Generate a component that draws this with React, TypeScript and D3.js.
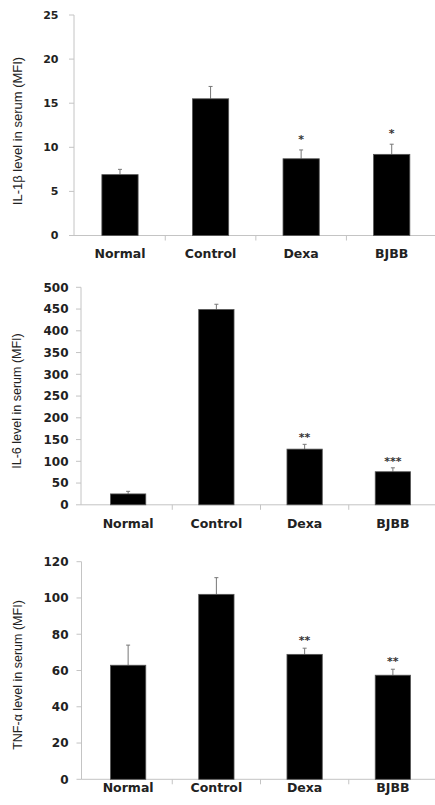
import React from "react";
import * as d3 from "d3";

const categories = ["Normal", "Control", "Dexa", "BJBB"];

const il1bMeans = [6.9, 15.5, 8.7, 9.2];
const il1bErrors = [0.6, 1.4, 1.0, 1.15];
const il1bStars = ["", "", "*", "*"];
const il1bTicks = [0, 5, 10, 15, 20, 25];
const il1bTitle = "IL-1β level in serum (MFI)";

const il6Means = [25, 449, 128, 76];
const il6Errors = [6, 12, 11, 9];
const il6Stars = ["", "", "**", "***"];
const il6Ticks = [0, 50, 100, 150, 200, 250, 300, 350, 400, 450, 500];
const il6Title = "IL-6 level in serum (MFI)";

const tnfMeans = [62.9, 102, 68.9, 57.4];
const tnfErrors = [11.1, 9.2, 3.4, 3.3];
const tnfStars = ["", "", "**", "**"];
const tnfTicks = [0, 20, 40, 60, 80, 100, 120];
const tnfTitle = "TNF-α level in serum (MFI)";

type PanelLayout = {
  axisX: number;
  bandStart: number;
  bandEnd: number;
  topPx: number;
  zeroPx: number;
  tickRight: number;
  tickFont: number;
  catBaseline: number;
  titleX: number;
  titleY: number;
  titleFont: number;
  starGap: number;
};

const AXIS = "#c4c4c4";
const TEXT = "#222";

function Panel({
  means,
  errors,
  stars,
  ticks,
  title,
  layout,
}: {
  means: number[];
  errors: number[];
  stars: string[];
  ticks: number[];
  title: string;
  layout: PanelLayout;
}) {
  const L = layout;
  const x = d3
    .scaleBand<string>()
    .domain(categories)
    .range([L.bandStart, L.bandEnd])
    .paddingInner(0.6)
    .paddingOuter(0.3);
  const step = x.step();
  const y = d3
    .scaleLinear()
    .domain([0, ticks[ticks.length - 1]])
    .range([L.zeroPx, L.topPx]);
  const bw = x.bandwidth();
  const boundaries = categories.slice(1).map((c) => (x(c) as number) - step * 0.3);
  boundaries.push(boundaries[boundaries.length - 1] + step);

  return (
    <g>
      {/* y axis */}
      <line x1={L.axisX} x2={L.axisX} y1={L.topPx} y2={L.zeroPx} stroke={AXIS} strokeWidth={1} />
      {ticks.map((t) => (
        <g key={t}>
          <line x1={L.axisX - 5} x2={L.axisX} y1={y(t)} y2={y(t)} stroke={AXIS} strokeWidth={1} />
          <text
            x={L.tickRight}
            y={y(t)}
            dy="0.36em"
            textAnchor="end"
            fontFamily="DejaVu Sans"
            fontWeight="bold"
            fontSize={L.tickFont}
            fill={TEXT}
          >
            {t}
          </text>
        </g>
      ))}
      {/* x axis */}
      <line x1={L.axisX} x2={L.bandEnd} y1={L.zeroPx} y2={L.zeroPx} stroke={AXIS} strokeWidth={1} />
      {boundaries.map((b, i) => (
        <line key={i} x1={b} x2={b} y1={L.zeroPx} y2={L.zeroPx + 5} stroke={AXIS} strokeWidth={1} />
      ))}
      {/* bars */}
      {categories.map((c, i) => {
        const bx = x(c) as number;
        const cx = bx + bw / 2;
        const top = y(means[i]);
        const errTop = y(means[i] + errors[i]);
        return (
          <g key={c}>
            <line x1={cx} x2={cx} y1={top} y2={errTop} stroke="#777" strokeWidth={1} />
            <line x1={cx - 2} x2={cx + 2} y1={errTop} y2={errTop} stroke="#777" strokeWidth={1} />
            <rect
              x={bx}
              y={top}
              width={bw}
              height={L.zeroPx - top}
              fill="#000"
              stroke="#555"
              strokeWidth={0.8}
            />
            {stars[i] && (
              <text
                x={cx}
                y={errTop - L.starGap}
                dy="0.55em"
                textAnchor="middle"
                fontFamily="DejaVu Sans"
                fontWeight="bold"
                fontSize={11}
                fill="#333"
              >
                {stars[i]}
              </text>
            )}
            <text
              x={cx}
              y={L.catBaseline}
              textAnchor="middle"
              fontFamily="DejaVu Sans"
              fontWeight="bold"
              fontSize={12.5}
              fill={TEXT}
            >
              {c}
            </text>
          </g>
        );
      })}
      {/* y title */}
      <text
        transform={`translate(${L.titleX},${L.titleY}) rotate(-90)`}
        textAnchor="middle"
        dy="0.35em"
        fontFamily="Liberation Sans"
        fontSize={L.titleFont}
        fill={TEXT}
      >
        {title}
      </text>
    </g>
  );
}

const layout1: PanelLayout = {
  axisX: 74,
  bandStart: 74.7,
  bandEnd: 437,
  topPx: 15,
  zeroPx: 235.5,
  tickRight: 58.5,
  tickFont: 11,
  catBaseline: 258,
  titleX: 17,
  titleY: 131,
  titleFont: 13,
  starGap: 13,
};

const layout2: PanelLayout = {
  axisX: 81,
  bandStart: 84,
  bandEnd: 437,
  topPx: 287.3,
  zeroPx: 504.8,
  tickRight: 68.5,
  tickFont: 12,
  catBaseline: 528,
  titleX: 17,
  titleY: 401,
  titleFont: 12.5,
  starGap: 9,
};

const layout3: PanelLayout = {
  axisX: 81.5,
  bandStart: 84,
  bandEnd: 437,
  topPx: 561.7,
  zeroPx: 779.3,
  tickRight: 68.5,
  tickFont: 12,
  catBaseline: 791.5,
  titleX: 18,
  titleY: 675,
  titleFont: 12.5,
  starGap: 10,
};

export default function App() {
  return (
    <svg
      width={435}
      height={805}
      style={{ position: "absolute", left: 0, top: 0, background: "#fff" }}
    >
      <rect width={435} height={805} fill="#fff" />
      <Panel means={il1bMeans} errors={il1bErrors} stars={il1bStars} ticks={il1bTicks} title={il1bTitle} layout={layout1} />
      <Panel means={il6Means} errors={il6Errors} stars={il6Stars} ticks={il6Ticks} title={il6Title} layout={layout2} />
      <Panel means={tnfMeans} errors={tnfErrors} stars={tnfStars} ticks={tnfTicks} title={tnfTitle} layout={layout3} />
    </svg>
  );
}
